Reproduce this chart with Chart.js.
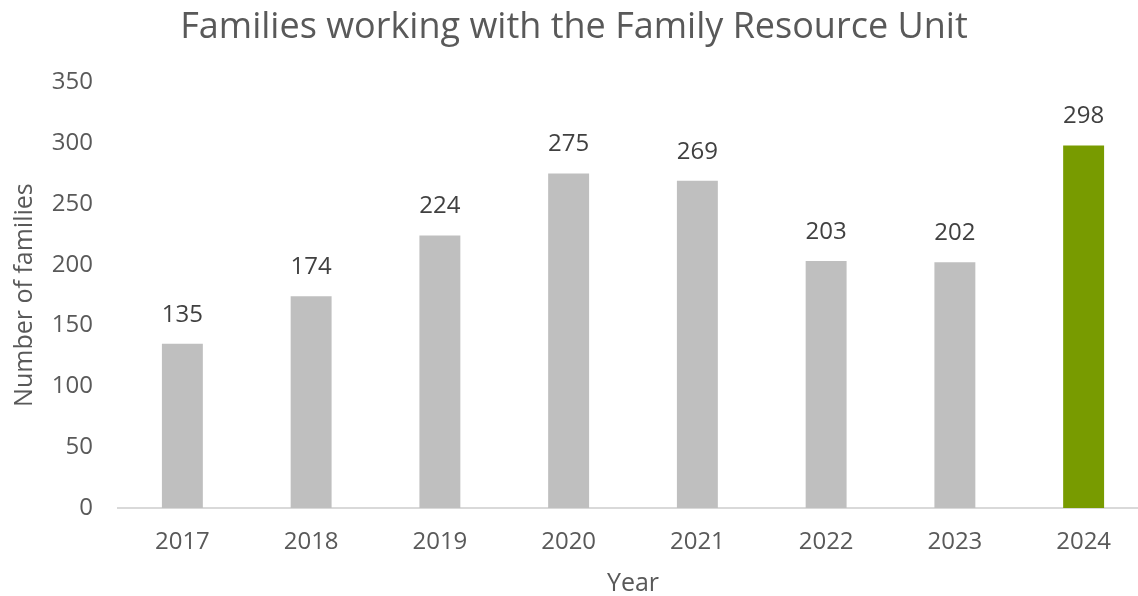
<!DOCTYPE html>
<html><head><meta charset="utf-8">
<script src="https://cdn.jsdelivr.net/npm/chart.js@4"></script>
<style>html,body{margin:0;padding:0;overflow:hidden;background:#fff}#wrap{width:1148px;height:596px}</style>
</head><body><div id="wrap"><canvas id="c"></canvas></div>
<script>
const categories = ["2017","2018","2019","2020","2021","2022","2023","2024"];
const families = [135,174,224,275,269,203,202,298];
const barColors = ["#BFBFBF","#BFBFBF","#BFBFBF","#BFBFBF","#BFBFBF","#BFBFBF","#BFBFBF","#789B00"];
const FONT = "'Open Sans', 'Noto Sans', sans-serif";
const labelPlugin = {
  id:'labels',
  afterDatasetsDraw(chart){
    const ctx = chart.ctx;
    const meta = chart.getDatasetMeta(0);
    ctx.save();
    ctx.font = "24px " + FONT;
    ctx.fillStyle = "#404040";
    ctx.textAlign = "center";
    ctx.textBaseline = "middle";
    meta.data.forEach((el,i)=>{ ctx.fillText(String(families[i]), el.x, el.y - 29); });
    ctx.restore();
  }
};
new Chart(document.getElementById('c'),{
  type:'bar',
  data:{labels:categories,datasets:[{data:families,backgroundColor:barColors,barPercentage:0.318,categoryPercentage:1}]},
  options:{
    responsive:true,maintainAspectRatio:false,animation:false,
    layout:{padding:{left:0,right:0,top:0,bottom:0}},
    plugins:{legend:{display:false},tooltip:{enabled:false},
      title:{display:true,text:"Families working with the Family Resource Unit",color:"#595959",font:{family:FONT,size:36,weight:'normal'},padding:{top:6,bottom:33}}},
    scales:{
      x:{grid:{display:false,drawTicks:false},border:{color:"#D9D9D9",width:2},
        afterFit(s){ s.height = 88; },
        ticks:{color:"#595959",font:{family:FONT,size:24},padding:20},
        title:{display:true,text:"Year",color:"#595959",font:{family:FONT,size:25},padding:{top:0,bottom:-3}}},
      y:{min:0,max:350,grid:{display:false,drawTicks:false},border:{display:false},
        afterFit(s){ s.width = 118; },
        ticks:{stepSize:50,color:"#595959",font:{family:FONT,size:24},padding:25},
        title:{display:true,text:"Number of families",color:"#595959",font:{family:FONT,size:25},padding:{top:10,bottom:0}}}
    }
  },
  plugins:[labelPlugin]
});
</script></body></html>
